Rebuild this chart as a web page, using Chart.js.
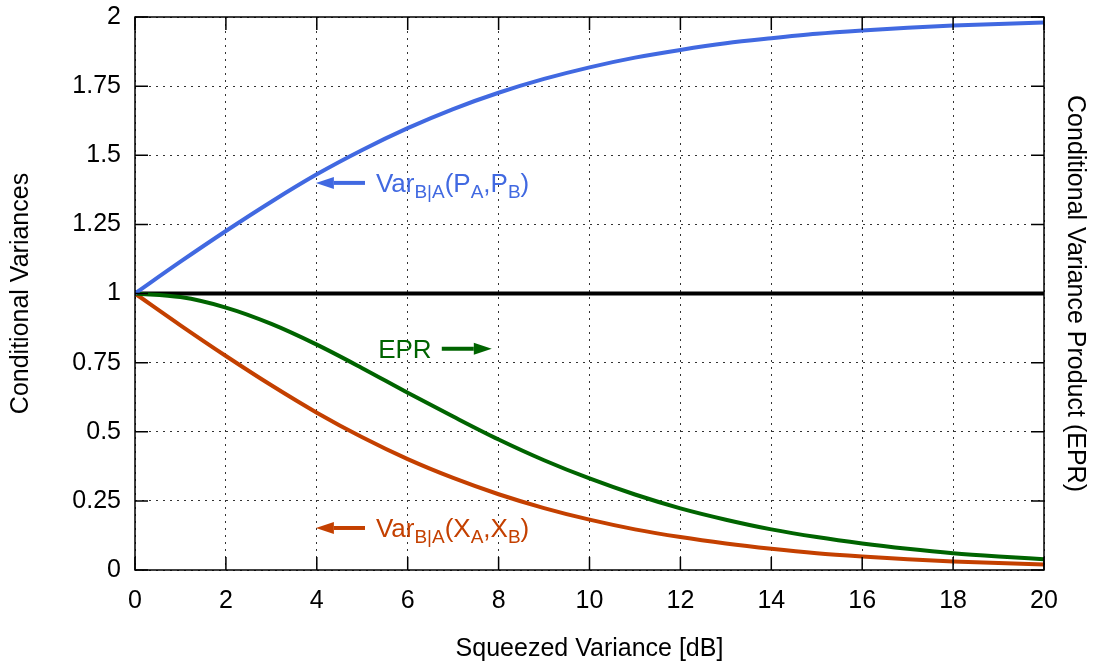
<!DOCTYPE html>
<html>
<head>
<meta charset="utf-8">
<script src="https://cdn.jsdelivr.net/npm/chart.js@4"></script>
<style>
  html, body { margin: 0; padding: 0; background: #fff; }
  #wrap { width: 1094px; height: 664px; }
</style>
</head>
<body>
<div id="wrap"><canvas id="chart" width="1094" height="664"></canvas></div>
<script>
// squeezing in dB at each integer step
var dbValues = [0, 1, 2, 3, 4, 5, 6, 7, 8, 9, 10, 11, 12, 13, 14, 15, 16, 17, 18, 19, 20];
var varP = [1, 1.115, 1.226, 1.332, 1.431, 1.519, 1.598, 1.667, 1.726, 1.776, 1.818,
            1.853, 1.881, 1.905, 1.923, 1.939, 1.951, 1.961, 1.969, 1.975, 1.980];
var varX = [1, 0.885, 0.774, 0.668, 0.569, 0.480, 0.401, 0.333, 0.274, 0.224, 0.182,
            0.147, 0.119, 0.096, 0.077, 0.061, 0.049, 0.039, 0.031, 0.025, 0.020];
var epr = [1, 0.987, 0.949, 0.890, 0.815, 0.730, 0.641, 0.555, 0.472, 0.397, 0.331,
           0.273, 0.223, 0.182, 0.147, 0.119, 0.096, 0.077, 0.061, 0.049, 0.039];
var limitX = [0, 20];
var limitY = [1, 1];
var yTickLabels = ['0', '0.25', '0.5', '0.75', '1', '1.25', '1.5', '1.75', '2'];

var FONT = '"Liberation Sans", Arial, sans-serif';

function pts(xs, ys) {
    return xs.map(function (x, i) { return {x: x, y: ys[i]}; });
}

// frame with inward tick marks on all four sides
var framePlugin = {
    id: 'frame',
    afterDatasetsDraw: function (chart) {
        var ctx = chart.ctx, a = chart.chartArea;
        var xs = chart.scales.x, ys = chart.scales.y;
        ctx.save();
        ctx.strokeStyle = '#000';
        ctx.lineWidth = 1.5;
        ctx.strokeRect(a.left, a.top, a.right - a.left, a.bottom - a.top);
        var len = 13;
        ctx.beginPath();
        xs.ticks.forEach(function (t) {
            var px = xs.getPixelForValue(t.value);
            ctx.moveTo(px, a.bottom); ctx.lineTo(px, a.bottom - len);
            ctx.moveTo(px, a.top); ctx.lineTo(px, a.top + len);
        });
        ys.ticks.forEach(function (t) {
            var py = ys.getPixelForValue(t.value);
            ctx.moveTo(a.left, py); ctx.lineTo(a.left + len, py);
            ctx.moveTo(a.right, py); ctx.lineTo(a.right - len, py);
        });
        ctx.stroke();
        ctx.restore();
    }
};

// labels with subscripts and arrows, placed in data coordinates
var notes = [
    {color: '#4169e1', parts: [['Var', 0], ['B|A', 1], ['(P', 0], ['A', 1], [',P', 0], ['B', 1], [')', 0]],
     tx: 5.3, ty: 1.40, from: 5.06, to: 3.98},
    {color: '#006400', parts: [['EPR', 0]], tx: 5.35, ty: 0.80, from: 6.75, to: 7.85},
    {color: '#c44000', parts: [['Var', 0], ['B|A', 1], ['(X', 0], ['A', 1], [',X', 0], ['B', 1], [')', 0]],
     tx: 5.3, ty: 0.152, from: 5.06, to: 3.98}
];

var notePlugin = {
    id: 'notes',
    afterDatasetsDraw: function (chart) {
        var ctx = chart.ctx, xs = chart.scales.x, ys = chart.scales.y;
        ctx.save();
        notes.forEach(function (n) {
            ctx.fillStyle = n.color;
            ctx.strokeStyle = n.color;
            var x = xs.getPixelForValue(n.tx), y = ys.getPixelForValue(n.ty);
            ctx.textBaseline = 'alphabetic';
            ctx.textAlign = 'left';
            var base = y + 9;
            n.parts.forEach(function (p) {
                ctx.font = (p[1] ? '19px ' : '26px ') + FONT;
                ctx.fillText(p[0], x, p[1] ? base + 6 : base);
                x += ctx.measureText(p[0]).width;
            });
            var x0 = xs.getPixelForValue(n.from), x1 = xs.getPixelForValue(n.to);
            var dir = x1 > x0 ? 1 : -1;
            var head = 18;
            ctx.lineWidth = 4;
            ctx.beginPath();
            ctx.moveTo(x0, y);
            ctx.lineTo(x1 - dir * head, y);
            ctx.stroke();
            ctx.beginPath();
            ctx.moveTo(x1, y);
            ctx.lineTo(x1 - dir * head, y - 6);
            ctx.lineTo(x1 - dir * head, y + 6);
            ctx.closePath();
            ctx.fill();
        });
        ctx.restore();
    }
};

var lineStyle = {borderWidth: 4, pointRadius: 0, fill: false, cubicInterpolationMode: 'monotone'};

new Chart(document.getElementById('chart').getContext('2d'), {
    type: 'line',
    data: {
        datasets: [
            Object.assign({label: 'limit', data: pts(limitX, limitY), borderColor: '#000', order: 4}, lineStyle),
            Object.assign({label: 'VarP', data: pts(dbValues, varP), borderColor: '#4169e1', order: 1}, lineStyle),
            Object.assign({label: 'EPR', data: pts(dbValues, epr), borderColor: '#006400', yAxisID: 'y2', order: 2}, lineStyle),
            Object.assign({label: 'VarX', data: pts(dbValues, varX), borderColor: '#c44000', order: 3}, lineStyle)
        ]
    },
    options: {
        responsive: false,
        animation: false,
        devicePixelRatio: 1,
        layout: {padding: {top: 17, left: 0, right: 0, bottom: 0}},
        plugins: {legend: {display: false}, tooltip: {enabled: false}},
        scales: {
            x: {
                type: 'linear', min: 0, max: 20,
                afterFit: function (s) { s.height = 94; },
                ticks: {stepSize: 2, color: '#000', padding: 16, font: {family: FONT, size: 25}},
                grid: {color: '#333', lineWidth: 1, drawTicks: false},
                border: {display: false, dash: [2, 5]},
                title: {display: true, text: 'Squeezed Variance [dB]', color: '#000',
                        font: {family: FONT, size: 25}, padding: {top: 4, bottom: 0}}
            },
            y: {
                min: 0, max: 2,
                afterFit: function (s) { s.width = 135; s.paddingTop = 0; s.paddingBottom = 0; },
                ticks: {stepSize: 0.25, color: '#000', padding: 14, font: {family: FONT, size: 25, lineHeight: 0.4},
                        callback: function (v, i) { return yTickLabels[i]; }},
                grid: {color: '#333', lineWidth: 1, drawTicks: false},
                border: {display: false, dash: [2, 5]},
                title: {display: true, text: 'Conditional Variances', color: '#000',
                        font: {family: FONT, size: 25}, padding: {top: 6, bottom: 0}}
            },
            y2: {
                position: 'right', min: 0, max: 2,
                afterFit: function (s) { s.width = 50; },
                ticks: {display: false},
                grid: {display: false, drawTicks: false},
                border: {display: false},
                title: {display: true, text: 'Conditional Variance Product (EPR)', color: '#000',
                        font: {family: FONT, size: 25}, padding: {top: 4, bottom: 0}}
            }
        }
    },
    plugins: [framePlugin, notePlugin]
});
</script>
</body>
</html>
